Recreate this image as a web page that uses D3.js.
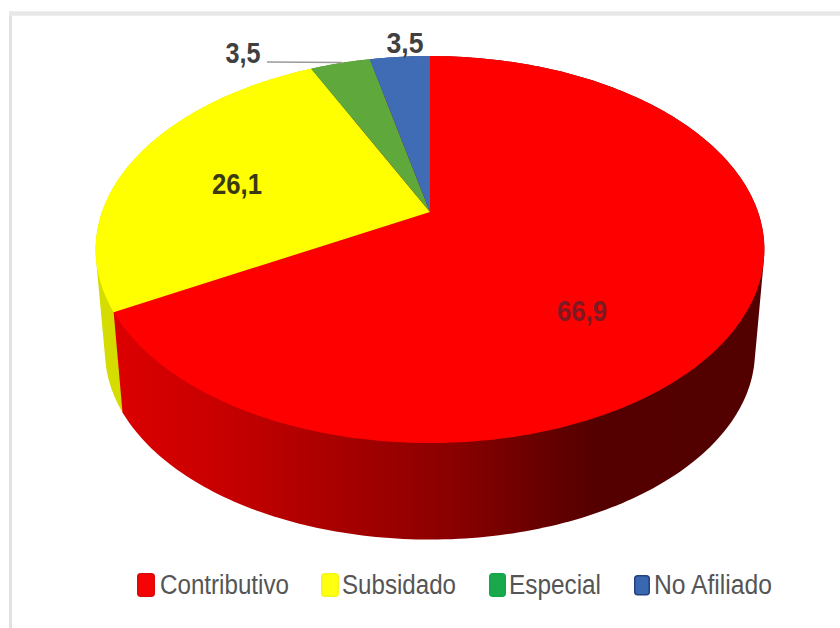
<!DOCTYPE html>
<html>
<head>
<meta charset="utf-8">
<style>
html,body{margin:0;padding:0;background:#fff}
svg{display:block}
</style>
<script src="https://d3js.org/d3.v7.min.js"></script>
</head>
<body>
<svg id="chart" width="840" height="628"></svg>
<script>
// Health-insurance affiliation shares, in percent
const categories = ["Contributivo", "Subsidado", "Especial", "No Afiliado"];
const shares = [66.9, 26.1, 3.5, 3.5];
const shareLabels = ["66,9", "26,1", "3,5", "3,5"];
const faceColors = ["#ff0000", "#ffff00", "#5fa83c", "#3f6cb4"];
const legendFill = ["#f40404", "#ffff10", "#1aa84c", "#3a68b0"];
const legendEdge = ["#dc0808", "#f4f420", "#10a848", "#23407f"];

const svg = d3.select("#chart");

// Perspective disc: the apex sits above the visual centre of the ellipse
const apex = {x: 430, y: 212};
const spanX = 328, spanY = 186.2, tilt = 0.194;
const lowerScale = 0.972, lowerApexY = 315;
const arcStep = Math.PI / 180;

const xProject = d3.scaleLinear().domain([-1, 1]).range([apex.x - spanX, apex.x + spanX]);
const yProject = d3.scaleLinear().domain([-1, 1]).range([apex.y - spanY, apex.y + spanY]);

// Unit-circle angle (clockwise from 12 o'clock) to screen point on the top face
function topPoint(angle) {
  const u = Math.sin(angle), v = -Math.cos(angle);
  const w = 1 - tilt * v;
  return [xProject(u / w), yProject(v / w)];
}
// Same angle on the smaller, lower rim
function lowerPoint(angle) {
  const [x, y] = topPoint(angle);
  return [apex.x + (x - apex.x) * lowerScale, lowerApexY + (y - apex.y) * lowerScale];
}
function rim(start, end, fn) {
  const n = Math.max(2, Math.ceil((end - start) / arcStep));
  return d3.range(n + 1).map(i => fn(start + (end - start) * i / n));
}

const pie = d3.pie().sort(null).value(d => d);
const slices = pie(shares);
const line = d3.line();

const defs = svg.append("defs");
const wallRed = defs.append("linearGradient")
  .attr("id", "wallRed").attr("gradientUnits", "userSpaceOnUse")
  .attr("x1", 115).attr("x2", 765).attr("y1", 0).attr("y2", 0);
[[0, "#dc0000"], [0.16, "#c80000"], [0.34, "#a80000"], [0.52, "#8a0000"],
 [0.646, "#6a0000"], [0.737, "#550000"], [1, "#520000"]].forEach(([o, c]) =>
  wallRed.append("stop").attr("offset", o).attr("stop-color", c));

// Frame around the plot
svg.append("path").attr("d", "M10.5,628V11").attr("stroke", "#e2e2e2").attr("stroke-width", 3);
svg.append("path").attr("d", "M9,13.5H840").attr("stroke", "#e8e8e8").attr("stroke-width", 4.5);

// Side wall of the cylinder: convex outline of each slice's two rims,
// painted back to front so the red wall overlaps the yellow one
const wallFill = ["url(#wallRed)", "#d4dc00", "#3f7a28", "#2c4e85"];
const wallOrder = [3, 2, 1, 0];
svg.append("g").selectAll("path").data(wallOrder).join("path")
  .attr("fill", i => wallFill[i])
  .attr("d", i => {
    const d = slices[i];
    const outline = rim(d.startAngle, d.endAngle, topPoint)
      .concat(rim(d.startAngle, d.endAngle, lowerPoint));
    return line(d3.polygonHull(outline)) + "Z";
  });

svg.append("g").selectAll("path").data(slices).join("path")
  .attr("fill", (d, i) => faceColors[i])
  .attr("d", d => line([[apex.x, apex.y]].concat(rim(d.startAngle, d.endAngle, topPoint))) + "Z");

// Leader line for the green slice label
svg.append("path")
  .attr("d", "M267,62L342,62.5")
  .attr("fill", "none").attr("stroke", "#9a9a9a").attr("stroke-width", 1.6);

// Value labels
const labelSpots = [[582, 311], [237, 184], [243, 53], [405, 43]];
const labelWidths = [50, 50, 35, 37];
const labelInk = ["#7c1a22", "#3a3a12", "#404040", "#404040"];
svg.append("g").selectAll("text").data(shareLabels).join("text")
  .attr("x", (d, i) => labelSpots[i][0]).attr("y", (d, i) => labelSpots[i][1])
  .attr("text-anchor", "middle").attr("dominant-baseline", "central")
  .attr("font-family", "'Liberation Sans',Arial,sans-serif")
  .attr("font-size", 29).attr("font-weight", 700)
  .attr("textLength", (d, i) => labelWidths[i]).attr("lengthAdjust", "spacingAndGlyphs")
  .attr("fill", (d, i) => labelInk[i]).text(d => d);

// Legend
const legendSwatchX = [137, 321, 489, 634];
const legendSwatchW = [18, 18, 17, 16];
const legendTextX = [160, 342, 509, 654];
const legendTextW = [129, 114, 92, 118];
const legend = svg.append("g").selectAll("g").data(categories).join("g");
legend.append("rect")
  .attr("x", (d, i) => legendSwatchX[i] + 0.75)
  .attr("y", (d, i) => (i === 3 ? 575 : 573) + 0.75)
  .attr("rx", 3)
  .attr("width", (d, i) => legendSwatchW[i] - 1.5)
  .attr("height", (d, i) => (i === 3 ? 19 : 22.5))
  .attr("fill", (d, i) => legendFill[i])
  .attr("stroke", (d, i) => legendEdge[i]).attr("stroke-width", 1.5);
legend.append("text")
  .attr("x", (d, i) => legendTextX[i]).attr("y", 594)
  .attr("font-family", "'Liberation Sans',Arial,sans-serif")
  .attr("font-size", 27)
  .attr("textLength", (d, i) => legendTextW[i]).attr("lengthAdjust", "spacingAndGlyphs")
  .attr("fill", "#555")
  .text(d => d);
</script>
</body>
</html>
